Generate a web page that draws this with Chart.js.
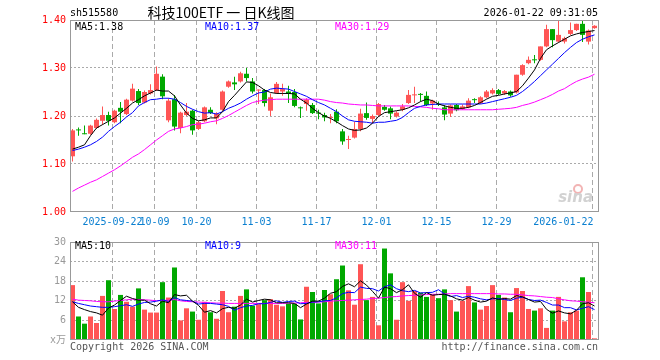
<!doctype html>
<html lang="zh-CN">
<head>
<meta charset="utf-8">
<title>科技100ETF 日K线图</title>
<script src="https://cdn.jsdelivr.net/npm/chart.js"></script>
<style>
  body { margin: 0; background: #fff; }
  #wrap { position: relative; width: 660px; height: 360px; }
  canvas { position: absolute; left: 0; }
  #k { top: 0; }
  #v { top: 232px; }
</style>
</head>
<body>
<div id="wrap">
  <canvas id="k" width="660" height="232"></canvas>
  <canvas id="v" width="660" height="128"></canvas>
</div>
<script>
// 88 trading days, 2025-09-11 .. 2026-01-22
var tickIdx = [7, 14, 21, 31, 41, 51, 61, 71, 87];
var tickLabels = ['2025-09-22', '10-09', '10-20', '11-03', '11-17', '12-01', '12-15', '12-29', '2026-01-22'];
var priceTicks = [1.0, 1.1, 1.2, 1.3, 1.4];
var volTicks = [0, 6, 12, 18, 24, 30];

var open = [1.116,1.172,1.163,1.163,1.175,1.190,1.202,1.187,1.217,1.204,
  1.232,1.252,1.228,1.247,1.254,1.282,1.191,1.235,1.175,1.202,
  1.211,1.173,1.189,1.213,1.195,1.213,1.261,1.270,1.272,1.288,
  1.272,1.253,1.254,1.211,1.248,1.251,1.251,1.250,1.217,1.225,
  1.223,1.207,1.202,1.196,1.209,1.168,1.150,1.155,1.173,1.206,
  1.194,1.202,1.219,1.216,1.199,1.213,1.227,1.243,1.245,1.242,
  1.226,1.224,1.218,1.205,1.223,1.215,1.218,1.234,1.227,1.239,
  1.247,1.254,1.247,1.251,1.249,1.286,1.310,1.317,1.317,1.345,
  1.381,1.355,1.355,1.371,1.379,1.392,1.355,1.383];
var high = [1.173,1.176,1.180,1.182,1.195,1.220,1.209,1.213,1.229,1.236,
  1.267,1.256,1.253,1.266,1.303,1.287,1.237,1.244,1.209,1.227,
  1.213,1.190,1.220,1.218,1.208,1.253,1.274,1.282,1.292,1.300,
  1.279,1.255,1.256,1.247,1.271,1.267,1.263,1.256,1.220,1.237,
  1.227,1.213,1.207,1.204,1.214,1.173,1.159,1.188,1.215,1.228,
  1.203,1.227,1.223,1.220,1.210,1.225,1.254,1.261,1.248,1.251,
  1.234,1.230,1.223,1.224,1.225,1.224,1.237,1.237,1.241,1.254,
  1.258,1.256,1.254,1.253,1.286,1.308,1.324,1.327,1.345,1.390,
  1.381,1.400,1.365,1.395,1.392,1.399,1.380,1.389];
var low = [1.105,1.159,1.162,1.161,1.173,1.182,1.180,1.185,1.185,1.202,
  1.230,1.223,1.226,1.245,1.252,1.235,1.187,1.170,1.164,1.200,
  1.161,1.171,1.187,1.204,1.183,1.211,1.259,1.254,1.270,1.272,
  1.247,1.225,1.220,1.200,1.246,1.242,1.227,1.218,1.196,1.211,
  1.204,1.193,1.189,1.185,1.185,1.140,1.131,1.153,1.168,1.192,
  1.185,1.200,1.211,1.193,1.197,1.210,1.225,1.227,1.230,1.221,
  1.213,1.221,1.191,1.198,1.210,1.213,1.216,1.227,1.225,1.237,
  1.245,1.244,1.244,1.240,1.247,1.284,1.308,1.310,1.315,1.343,
  1.343,1.353,1.351,1.369,1.377,1.354,1.349,1.382];
var close = [1.170,1.170,1.162,1.180,1.192,1.202,1.190,1.211,1.209,1.234,
  1.257,1.227,1.250,1.254,1.288,1.241,1.232,1.178,1.207,1.209,
  1.170,1.187,1.218,1.206,1.205,1.251,1.272,1.266,1.289,1.279,
  1.251,1.254,1.227,1.239,1.267,1.256,1.246,1.221,1.216,1.234,
  1.206,1.205,1.197,1.197,1.189,1.147,1.151,1.173,1.205,1.196,
  1.200,1.225,1.213,1.205,1.207,1.220,1.244,1.245,1.244,1.223,
  1.232,1.223,1.203,1.222,1.212,1.220,1.232,1.233,1.239,1.251,
  1.254,1.246,1.252,1.243,1.286,1.306,1.317,1.316,1.345,1.381,
  1.358,1.369,1.362,1.379,1.392,1.369,1.378,1.388];

var ma5 = [1.131,1.135,1.140,1.159,1.175,1.182,1.189,1.196,1.206,1.216,
  1.227,1.234,1.242,1.248,1.254,1.252,1.252,1.242,1.223,1.206,
  1.195,1.190,1.192,1.196,1.196,1.209,1.230,1.243,1.257,1.271,
  1.270,1.263,1.254,1.249,1.247,1.247,1.247,1.246,1.235,1.227,
  1.216,1.207,1.200,1.195,1.188,1.180,1.173,1.170,1.171,1.175,
  1.185,1.199,1.207,1.209,1.211,1.213,1.217,1.223,1.230,1.235,
  1.232,1.225,1.221,1.218,1.216,1.216,1.218,1.222,1.228,1.235,
  1.241,1.243,1.246,1.248,1.251,1.263,1.279,1.296,1.320,1.338,
  1.346,1.353,1.360,1.367,1.371,1.374,1.376,1.378];
var ma10 = [1.128,1.131,1.135,1.140,1.147,1.156,1.168,1.178,1.187,1.198,
  1.207,1.221,1.228,1.234,1.235,1.237,1.237,1.235,1.228,1.220,
  1.214,1.209,1.206,1.207,1.204,1.209,1.216,1.221,1.227,1.235,
  1.242,1.248,1.250,1.256,1.258,1.257,1.256,1.251,1.246,1.241,
  1.234,1.228,1.223,1.216,1.209,1.200,1.192,1.189,1.188,1.187,
  1.185,1.187,1.187,1.189,1.191,1.197,1.207,1.216,1.220,1.223,
  1.224,1.225,1.225,1.225,1.225,1.225,1.225,1.225,1.225,1.227,
  1.230,1.233,1.236,1.239,1.243,1.251,1.261,1.272,1.284,1.296,
  1.308,1.320,1.332,1.343,1.353,1.360,1.365,1.369];
var ma30 = [1.043,1.050,1.056,1.062,1.067,1.074,1.081,1.088,1.096,1.105,
  1.114,1.121,1.130,1.140,1.150,1.159,1.168,1.173,1.175,1.178,
  1.182,1.183,1.185,1.188,1.190,1.195,1.201,1.208,1.215,1.222,
  1.228,1.231,1.233,1.234,1.235,1.235,1.235,1.235,1.235,1.235,
  1.235,1.235,1.233,1.230,1.228,1.227,1.225,1.224,1.223,1.223,
  1.222,1.221,1.221,1.221,1.221,1.221,1.221,1.220,1.219,1.218,
  1.216,1.215,1.213,1.213,1.213,1.213,1.213,1.213,1.213,1.213,
  1.213,1.214,1.215,1.216,1.218,1.222,1.225,1.229,1.234,1.239,
  1.245,1.252,1.257,1.265,1.272,1.277,1.281,1.287];

// volume, x万
var vol = [16.8,7.2,5.0,7.2,5.2,13.5,18.3,9.5,13.8,11.7,
  10.2,15.8,9.3,8.4,8.4,17.7,13.0,22.2,6.0,9.7,
  8.7,6.2,11.7,8.5,6.5,15.0,8.5,10.2,13.5,15.5,
  10.5,11.0,12.2,12.5,10.8,10.3,11.2,11.1,6.3,16.3,
  14.7,11.2,15.3,14.0,18.6,22.8,15.2,10.8,23.2,12.2,
  13.2,4.5,28.0,20.4,6.2,17.7,12.0,15.0,14.5,13.2,
  14.0,12.8,15.5,12.2,8.7,12.0,16.5,11.5,9.3,10.4,
  16.8,13.8,13.0,8.5,15.9,15.0,9.5,9.0,9.7,3.7,
  9.0,13.2,5.7,8.5,9.0,19.2,14.7,0.5];
var vma5 = [11.7,10.0,9.3,8.7,8.3,7.6,9.8,10.7,12.1,13.4,
  12.7,12.2,12.2,11.1,10.4,11.9,11.4,13.9,13.5,13.7,
  11.9,10.6,8.5,9.0,8.3,9.6,10.0,9.7,10.7,12.5,
  11.6,12.1,12.5,12.3,11.4,11.4,11.4,11.2,9.9,11.0,
  11.9,11.9,12.8,14.3,14.8,16.4,17.2,16.3,18.1,16.8,
  14.9,12.8,16.2,15.7,14.5,15.4,16.9,14.3,13.1,14.5,
  13.7,13.9,14.0,13.5,12.6,12.2,13.0,12.2,11.6,11.9,
  12.9,12.4,12.7,12.5,13.6,13.2,12.4,11.6,11.8,9.4,
  8.2,8.9,8.3,8.0,9.1,11.1,11.4,10.4];
var vma10 = [11.7,11.2,10.8,10.4,10.2,10.0,10.0,10.2,10.5,10.8,
  10.3,11.0,11.5,11.6,11.9,12.3,11.8,13.0,12.3,12.1,
  11.9,11.0,11.2,11.2,11.0,10.8,10.3,9.1,9.9,10.4,
  10.6,11.1,11.1,11.5,12.0,11.5,11.8,11.9,11.1,11.2,
  11.6,11.7,12.0,12.1,12.9,14.2,14.6,14.5,16.2,15.8,
  15.7,15.0,16.3,16.9,15.7,15.1,14.8,15.2,14.4,14.5,
  14.6,15.4,14.1,13.3,13.6,13.0,13.4,13.1,12.6,12.3,
  12.6,12.7,12.4,12.1,12.8,13.1,12.4,12.1,12.2,11.5,
  10.7,10.7,9.9,9.9,9.2,9.7,10.2,9.3];
var vma30 = [12.5,12.2,12.1,12.0,11.8,11.7,11.7,11.9,12.1,12.3,
  12.5,12.4,12.3,12.2,12.0,12.1,12.2,12.4,12.0,11.8,
  11.7,11.6,11.5,11.4,11.3,11.3,11.2,11.2,11.2,11.2,
  11.2,11.2,11.2,11.2,11.2,11.2,11.3,11.3,11.4,11.5,
  11.5,11.6,11.7,11.9,12.0,12.1,12.2,12.3,12.4,12.5,
  12.7,12.8,13.0,13.2,13.3,13.5,13.6,13.7,13.8,13.9,
  14.0,14.0,14.1,14.2,14.2,14.2,14.2,14.2,14.2,14.2,
  14.2,14.1,14.1,14.0,14.0,13.8,13.6,13.5,13.3,13.1,
  13.0,12.6,12.3,12.0,11.9,11.7,11.6,11.4];

var code = 'sh515580';
var title = '科技100ETF 一 日K线图';
var stamp = '2026-01-22 09:31:05';

var n = close.length;
var RED = '#ff5555', GREEN = '#00a800';
var MONO = '10px "DejaVu Sans Mono", monospace';
var colors = close.map(function (c, i) { return c >= open[i] ? RED : GREEN; });
function xy(arr) { return arr.map(function (v, i) { return { x: i, y: v }; }); }

function txt(ctx, s, x, y, color, font, align) {
  ctx.save();
  ctx.fillStyle = color;
  ctx.font = font;
  ctx.textAlign = align || 'left';
  ctx.textBaseline = 'middle';
  ctx.fillText(s, x, y);
  ctx.restore();
}
function frame(chart) {
  var a = chart.chartArea, ctx = chart.ctx;
  ctx.save();
  ctx.strokeStyle = '#999';
  ctx.lineWidth = 1;
  ctx.strokeRect(a.left + 0.5, a.top + 0.5, a.right - a.left - 1, a.bottom - a.top - 1);
  ctx.restore();
}
function maLine(data, color) {
  return { type: 'line', data: xy(data), borderColor: color, borderWidth: 1,
    pointRadius: 0, tension: 0, order: 0 };
}

function xAxis() {
  return {
    type: 'linear', min: -5 / 12, max: 87.75, bounds: 'data', offset: false,
    afterFit: function (s) { s.height = 20; },
    afterBuildTicks: function (s) {
      s.ticks = tickIdx.map(function (i) { return { value: i - 1 / 3 }; });
    },
    ticks: { display: false },
    grid: { offset: false, color: '#aaa', drawTicks: false },
    border: { display: false, dash: [5, 3] }
  };
}
function yAxis(min, max, ticks, color, fmt) {
  return {
    min: min, max: max, bounds: 'data',
    afterFit: function (s) { s.width = 70; },
    afterBuildTicks: function (s) {
      s.ticks = ticks.map(function (v) { return { value: v }; });
    },
    ticks: { color: color, padding: 4, font: { family: '"DejaVu Sans Mono", monospace', size: 10 },
      callback: fmt },
    grid: { drawTicks: false,
      color: function (c) {
        return (c.index === 0 || c.index === ticks.length - 1) ? 'rgba(0,0,0,0)' : '#aaa';
      } },
    border: { display: false, dash: [2, 2] }
  };
}

var kDecor = {
  id: 'kDecor',
  beforeDatasetsDraw: function (chart) {
    var ctx = chart.ctx, a = chart.chartArea;
    ctx.save();
    ctx.strokeStyle = '#f2b4b4';
    ctx.lineWidth = 2;
    ctx.beginPath();
    ctx.arc(a.right - 21, a.bottom - 23, 4, 0, Math.PI * 2);
    ctx.stroke();
    ctx.restore();
    txt(ctx, 'sina', a.right - 6, a.bottom - 14, '#d2d2d2', 'italic bold 15px "DejaVu Sans"', 'right');
  },
  afterDraw: function (chart) {
    var ctx = chart.ctx, a = chart.chartArea, xs = chart.scales.x;
    frame(chart);
    txt(ctx, code, a.left, 13, '#000', MONO);
    txt(ctx, title, 221, 13, '#000', '14px "Noto Sans CJK SC"', 'center');
    txt(ctx, stamp, a.right - 1, 13, '#000', MONO, 'right');
    txt(ctx, 'MA5:' + ma5[n - 1].toFixed(2), 75, 27, '#000', MONO);
    txt(ctx, 'MA10:' + ma10[n - 1].toFixed(2), 205, 27, '#0000ff', MONO);
    txt(ctx, 'MA30:' + ma30[n - 1].toFixed(2), 335, 27, '#ff00ff', MONO);
    tickIdx.forEach(function (d, k) {
      var px = xs.getPixelForValue(d - 1 / 3);
      var last = k === tickIdx.length - 1;
      txt(ctx, tickLabels[k], last ? px + 1 : px, 222, '#0a7fd0', MONO, last ? 'right' : 'center');
    });
  }
};

var vDecor = {
  id: 'vDecor',
  afterDraw: function (chart) {
    var ctx = chart.ctx, a = chart.chartArea;
    frame(chart);
    txt(ctx, 'MA5:' + vma5[n - 1].toFixed(0), 75, 14, '#000', MONO);
    txt(ctx, 'MA10:' + vma10[n - 1].toFixed(0), 205, 14, '#0000ff', MONO);
    txt(ctx, 'MA30:' + vma30[n - 1].toFixed(0), 335, 14, '#ff00ff', MONO);
    txt(ctx, 'Copyright 2026 SINA.COM', a.left, 115, '#555', MONO);
    txt(ctx, 'http://finance.sina.com.cn', a.right - 1, 115, '#555', MONO, 'right');
  }
};

var common = {
  responsive: false, animation: false, devicePixelRatio: 1, events: [],
  plugins: { legend: { display: false }, tooltip: { enabled: false } }
};

new Chart(document.getElementById('k'), {
  type: 'bar',
  data: {
    datasets: [
      maLine(ma5, '#000000'),
      maLine(ma10, '#0000ff'),
      maLine(ma30, '#ff00ff'),
      { data: open.map(function (o, i) { return { x: i, y: [o, close[i]] }; }),
        backgroundColor: colors, barThickness: 5, minBarLength: 1,
        grouped: false, inflateAmount: 0, order: 1 },
      { data: low.map(function (l, i) { return { x: i, y: [l, high[i]] }; }),
        backgroundColor: colors, barThickness: 1,
        grouped: false, inflateAmount: 0, order: 2 }
    ]
  },
  options: Object.assign({}, common, {
    layout: { padding: { top: 20, right: 61, left: 0, bottom: 0 } },
    scales: {
      x: xAxis(),
      y: yAxis(1.0, 1.4, priceTicks, '#ff0000', function (v) { return v.toFixed(2); })
    }
  }),
  plugins: [kDecor]
});

new Chart(document.getElementById('v'), {
  type: 'bar',
  data: {
    datasets: [
      maLine(vma5, '#000000'),
      maLine(vma10, '#0000ff'),
      maLine(vma30, '#ff00ff'),
      { data: xy(vol), backgroundColor: colors, barThickness: 5,
        grouped: false, inflateAmount: 0, order: 1 }
    ]
  },
  options: Object.assign({}, common, {
    layout: { padding: { top: 8, right: 61, left: 0, bottom: 0 } },
    scales: {
      x: xAxis(),
      y: yAxis(0, 30, volTicks, '#999', function (v) { return v === 0 ? 'x万' : String(v); })
    }
  }),
  plugins: [vDecor]
});
</script>
</body>
</html>
